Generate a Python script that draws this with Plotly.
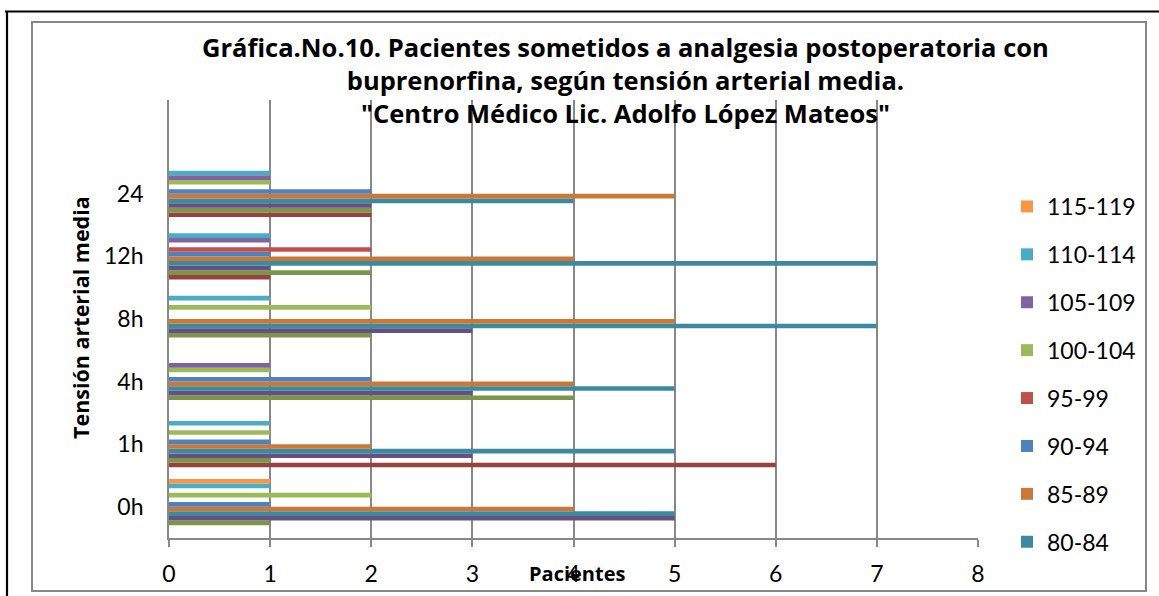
import plotly.graph_objects as go

# Time points after surgery (category axis) and mean arterial pressure ranges
momentos = ["0h", "1h", "4h", "8h", "12h", "24"]

rangos = [
    "60-64", "65-69", "70-74", "75-79", "80-84", "85-89",
    "90-94", "95-99", "100-104", "105-109", "110-114", "115-119",
]

# Number of patients per pressure range at each time point
p_60_64 = [0, 0, 0, 0, 0, 0]
p_65_69 = [0, 6, 0, 0, 1, 2]
p_70_74 = [1, 1, 4, 2, 2, 2]
p_75_79 = [5, 3, 3, 3, 1, 2]
p_80_84 = [5, 5, 5, 7, 7, 4]
p_85_89 = [4, 2, 4, 5, 4, 5]
p_90_94 = [1, 1, 2, 0, 1, 2]
p_95_99 = [0, 0, 0, 0, 2, 0]
p_100_104 = [2, 1, 1, 2, 0, 1]
p_105_109 = [0, 0, 1, 0, 1, 1]
p_110_114 = [1, 1, 0, 1, 1, 1]
p_115_119 = [1, 0, 0, 0, 0, 0]

valores = [
    p_60_64, p_65_69, p_70_74, p_75_79, p_80_84, p_85_89,
    p_90_94, p_95_99, p_100_104, p_105_109, p_110_114, p_115_119,
]

colores = [
    "#3F6797", "#9A403E", "#7C9647", "#665082", "#3C8AA0", "#C97838",
    "#4F81BD", "#C0504D", "#9BBB59", "#8064A2", "#4BACC6", "#F79646",
]

# only the upper eight ranges fit in the legend box
en_leyenda = [False, False, False, False, True, True,
              True, True, True, True, True, True]

FONT = "Lato, 'Open Sans', sans-serif"
FONT_TIT = "'Open Sans', Lato, sans-serif"
W, H = 1159, 596
# plot area in pixels
PL, PR, PT, PB = 169, 978, 100, 538


def px(x):
    return (x - PL) / (PR - PL)


def py(y):
    return (PB - y) / (PB - PT)


fig = go.Figure()
n = len(rangos)
for i, (nombre, vals, color, ley) in enumerate(zip(rangos, valores, colores, en_leyenda)):
    fig.add_trace(go.Bar(
        y=momentos, x=vals, name=nombre, orientation="h",
        marker=dict(color=color, line=dict(width=0)),
        showlegend=ley, legendgroup=nombre, legendrank=n - i,
    ))

grid = "#888888"

fig.update_layout(
    width=W, height=H,
    margin=dict(l=PL, r=W - PR, t=PT, b=H - PB, autoexpand=False),
    paper_bgcolor="white", plot_bgcolor="white",
    barmode="group", bargap=0.111, bargroupgap=0,
    font=dict(family=FONT, size=23, color="black"),
    xaxis=dict(
        range=[0, 8], dtick=1, tick0=0,
        showgrid=True, gridcolor=grid, gridwidth=1.7,
        zeroline=False, showline=True, linecolor=grid, linewidth=1.7,
        ticks="outside", ticklen=7, tickcolor=grid, tickwidth=1.7,
        ticklabelstandoff=8,
        tickfont=dict(family=FONT, size=23, color="black"),
        fixedrange=True,
    ),
    yaxis=dict(
        type="category", categoryorder="array", categoryarray=momentos,
        range=[-0.5, 6.5],
        showgrid=False, zeroline=False,
        showline=True, linecolor=grid, linewidth=1.7,
        ticks="", ticklabelstandoff=19,
        tickfont=dict(family=FONT, size=23, color="black"),
        fixedrange=True,
    ),
    legend=dict(
        x=px(1007), xanchor="left", y=py(185), yanchor="top",
        traceorder="grouped", tracegroupgap=15,
        font=dict(family=FONT, size=23, color="black"),
        bgcolor="rgba(0,0,0,0)", itemclick=False, itemdoubleclick=False,
    ),
    showlegend=True,
)

# three-line chart title
titulo = [
    "Gráfica.No.10. Pacientes sometidos a analgesia postoperatoria con",
    "buprenorfina, según tensión arterial media.",
    "\"Centro Médico Lic. Adolfo López Mateos\"",
]
fig.add_annotation(
    text="<br>".join("<b>" + t + "</b>" for t in titulo),
    x=px(625), y=py(80), xref="paper", yref="paper", showarrow=False,
    xanchor="center", yanchor="middle", align="center",
    font=dict(family=FONT_TIT, size=25.5, color="black"),
)

# axis titles
fig.add_annotation(
    text="<b>Pacientes</b>", x=px(577), y=py(573), xref="paper", yref="paper",
    showarrow=False, xanchor="center", yanchor="middle",
    font=dict(family=FONT_TIT, size=20, color="black"),
)
fig.add_annotation(
    text="<b>Tensión arterial media</b>", x=px(80), y=py(318),
    xref="paper", yref="paper", textangle=-90,
    showarrow=False, xanchor="center", yanchor="middle",
    font=dict(family=FONT_TIT, size=21.5, color="black"),
)

# chart frame (grey) and the surrounding black page rules
fig.add_shape(type="rect", xref="paper", yref="paper",
              x0=px(32), x1=px(1146), y0=py(591), y1=py(22),
              line=dict(color="#878787", width=2), layer="below")
fig.add_shape(type="line", xref="paper", yref="paper",
              x0=px(5), x1=px(1159), y0=py(11.5), y1=py(11.5),
              line=dict(color="black", width=2.2))
fig.add_shape(type="line", xref="paper", yref="paper",
              x0=px(7), x1=px(7), y0=py(11.5), y1=py(596),
              line=dict(color="black", width=2.2))

fig.write_html("out.html")
